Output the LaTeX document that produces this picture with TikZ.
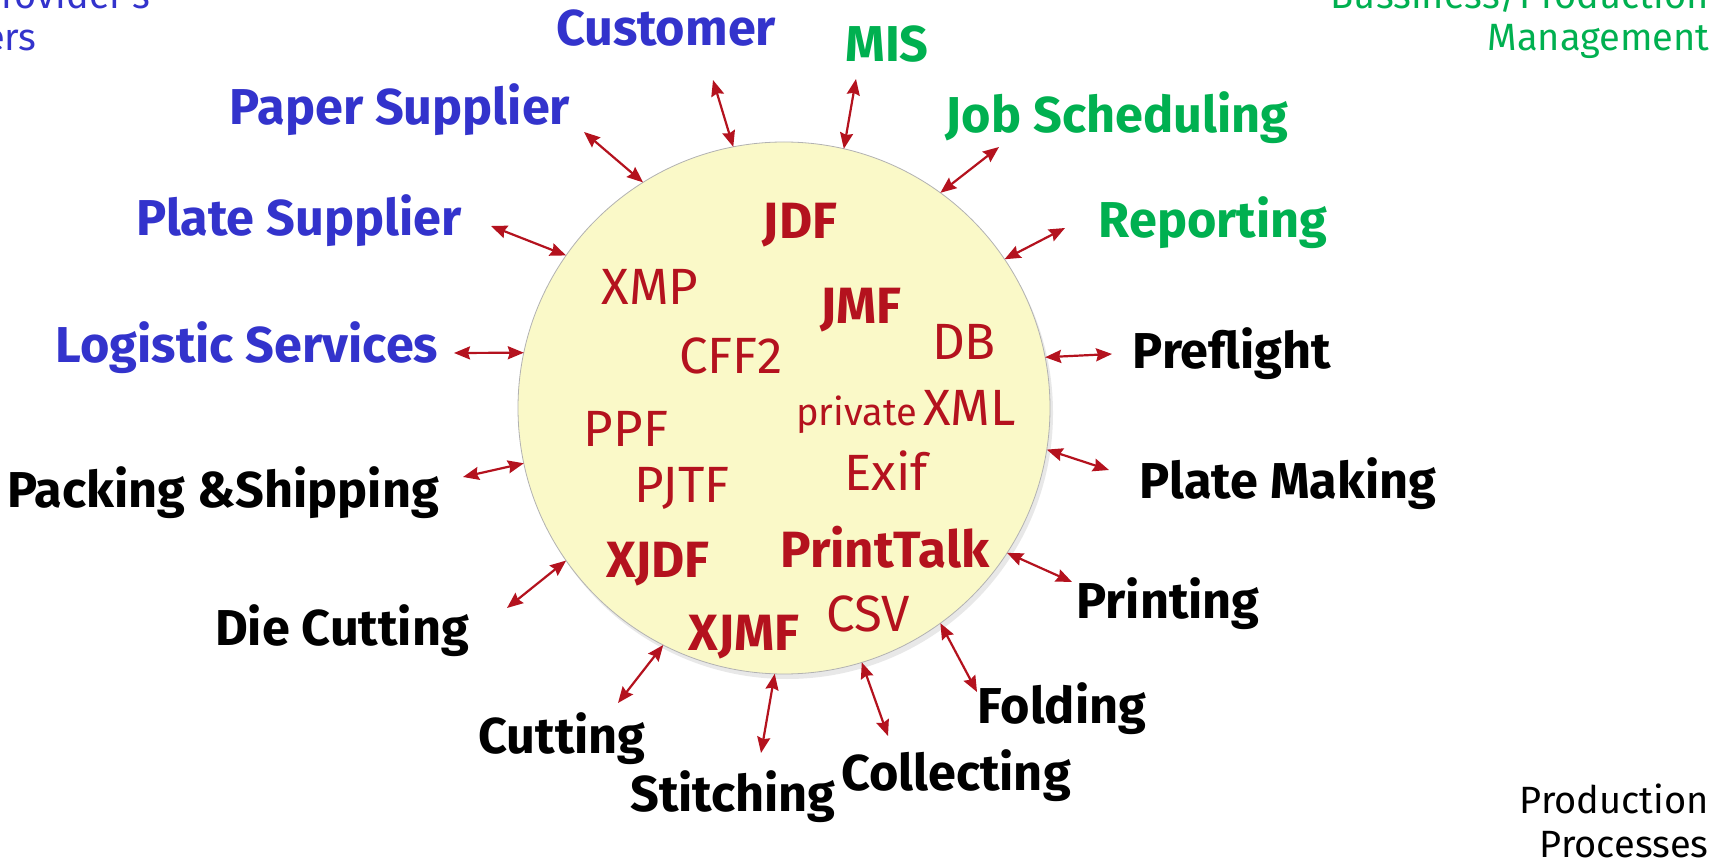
\documentclass[tikz,border=0pt]{standalone}
\usepackage{fontspec}
\setmainfont{Fira Sans}
\usetikzlibrary{arrows.meta,shadows}
\definecolor{blu}{RGB}{51,51,204}
\definecolor{grn}{RGB}{0,176,80}
\definecolor{rd}{RGB}{180,18,30}
\definecolor{cin}{RGB}{250,249,200}
\definecolor{crim}{RGB}{254,254,236}
\definecolor{cedge}{RGB}{232,232,196}
\pgfdeclareradialshading{ball}{\pgfpoint{0bp}{0bp}}{color(0bp)=(cin); color(41bp)=(cin); color(47.5bp)=(crim); color(50bp)=(cedge)}
\tikzset{
  bluelab/.style={font=\bfseries\fontsize{25.2}{30}\selectfont, text=blu, inner sep=0pt},
  greenlab/.style={font=\bfseries\fontsize{25.2}{30}\selectfont, text=grn, inner sep=0pt},
  blacklab/.style={font=\bfseries\fontsize{25.2}{30}\selectfont, text=black, inner sep=0pt},
  fmt/.style={font=\fontsize{25.5}{30}\selectfont, text=rd, inner sep=0pt},
  fmtb/.style={font=\bfseries\fontsize{25.5}{30}\selectfont, text=rd, inner sep=0pt},
  corner/.style={font=\fontsize{19}{23}\selectfont, inner sep=0pt, anchor=base east},
  arr/.style={draw=rd, line width=1.1pt, {Stealth[length=8pt,width=6.5pt,inset=1pt]}-{Stealth[length=8pt,width=6.5pt,inset=1pt]}}
}
\begin{document}
\begin{tikzpicture}[x=0.5pt,y=-0.5pt]
\useasboundingbox[fill=white] (0,0) rectangle (1729,860);

% central disc
\node[circle, minimum size=266pt, inner sep=0pt, outer sep=0pt, shading=ball,
      draw=black!30, line width=0.4pt,
      drop shadow={opacity=0.18, shadow xshift=1.5pt, shadow yshift=-2.5pt}] (c) at (784,408) {};

% formats inside the disc
\node[fmtb] (jdf) at (800,225) {JDF};
\node[fmt]  (xmp) at (650,287) {XMP};
\node[fmtb] (jmf) at (861,310) {JMF};
\node[fmt]  (db) at (964,342) {DB};
\node[fmt]  (cff) at (731,356) {CFF2};
\node[fmt, font=\fontsize{19}{23}\selectfont, anchor=base west] (priv) at (796,426) {private};
\node[fmt, anchor=base west] (xml) at (923,426) {XML};
\node[fmt]  (ppf) at (626,429) {PPF};
\node[fmt]  (exif) at (886,471) {Exif};
\node[fmt]  (pjtf) at (682,488) {PJTF};
\node[fmtb] (ptk) at (885,547) {PrintTalk};
\node[fmtb] (xjdf) at (658,564) {XJDF};
\node[fmt]  (csv) at (868,614) {CSV};
\node[fmtb] (xjmf) at (744,637) {XJMF};

% outer labels
\node[bluelab]  (cust) at (666,28) {Customer};
\node[greenlab] (mis) at (887,44) {MIS};
\node[bluelab]  (paper) at (400,110) {Paper Supplier};
\node[greenlab] (job) at (1117,118) {Job Scheduling};
\node[bluelab]  (plate) at (299,221) {Plate Supplier};
\node[greenlab] (rep) at (1213,223) {Reporting};
\node[bluelab]  (log) at (247,348) {Logistic Services};
\node[blacklab] (pre) at (1232,354) {Preflight};
\node[blacklab] (pack) at (223,493) {Packing \&Shipping};
\node[blacklab] (pm) at (1288,484) {Plate Making};
\node[blacklab] (prn) at (1168,604) {Printing};
\node[blacklab] (die) at (342,631) {Die Cutting};
\node[blacklab] (fold) at (1062,709) {Folding};
\node[blacklab] (cut) at (562,739) {Cutting};
\node[blacklab] (coll) at (956,776) {Collecting};
\node[blacklab] (stit) at (733,797) {Stitching};

% corner captions (partly outside the page, as in the reference)
\node[corner, text=blu] (psp1) at (151,9) {Print Service Provider's};
\node[corner, text=blu] (psp2) at (37,51) {Suppliers};
\node[corner, text=grn] (bpm1) at (1709,9) {Bussiness/Production};
\node[corner, text=grn] (bpm2) at (1710,51) {Management};
\node[corner, text=black] (pp1) at (1709,813) {Production};
\node[corner, text=black] (pp2) at (1709,857) {Processes};

% outer arrow ends
\coordinate (o1) at (713,80);
\coordinate (o2) at (856,79);
\coordinate (o3) at (584,132);
\coordinate (o4) at (999,147);
\coordinate (o5) at (491,226);
\coordinate (o6) at (1065,228);
\coordinate (o7) at (454,353);
\coordinate (o8) at (1112,354);
\coordinate (o9) at (463,477);
\coordinate (o10) at (1109,470);
\coordinate (o11) at (1072,582);
\coordinate (o12) at (507,608);
\coordinate (o13) at (977,692);
\coordinate (o14) at (618,703);
\coordinate (o15) at (888,736);
\coordinate (o16) at (761,753);

\draw[arr] (c.101.8) -- (o1);
\draw[arr] (c.77.8) -- (o2);
\draw[arr] (c.122.6) -- (o3);
\draw[arr] (c.54.2) -- (o4);
\draw[arr] (c.145.3) -- (o5);
\draw[arr] (c.34.0) -- (o6);
\draw[arr] (c.168.1) -- (o7);
\draw[arr] (c.11.4) -- (o8);
\draw[arr] (c.192.1) -- (o9);
\draw[arr] (c.-9.7) -- (o10);
\draw[arr] (c.-33.0) -- (o11);
\draw[arr] (c.215.8) -- (o12);
\draw[arr] (c.-54.9) -- (o13);
\draw[arr] (c.243.3) -- (o14);
\draw[arr] (c.-73.8) -- (o15);
\draw[arr] (c.268.5) -- (o16);
\end{tikzpicture}
\end{document}
